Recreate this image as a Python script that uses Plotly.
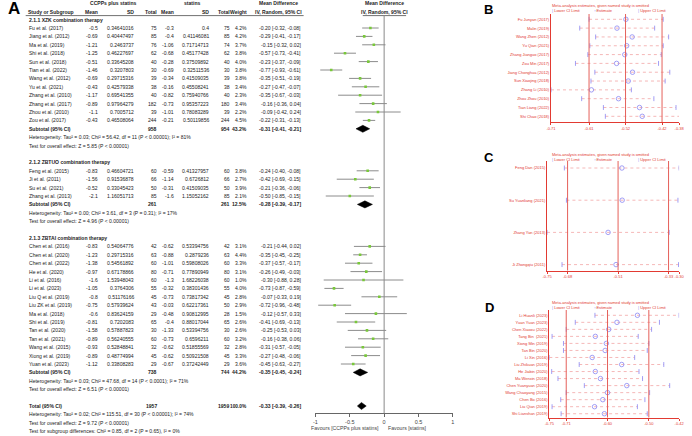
import plotly.graph_objects as go

W, H = 692, 436
FONT = "Liberation Sans, Arial, sans-serif"
FS = 5.05
TXT = "#222222"
RED = "#e23a32"
LRED = "#f2a6a6"
BLUE = "#8a87f2"

# ---------------- Panel A data ----------------
study = ["Fu et al. (2017)", "Jiang et al. (2012)", "Ma et al. (2019)", "Shi et al. (2018)",
         "Sun et al. (2018)", "Tian et al. (2022)", "Wang et al. (2012)", "Yu et al. (2021)",
         "Zhang et al. (2010)", "Zhang et al. (2017)", "Zhou et al. (2010)", "Zou et al. (2017)",
         "Feng et al. (2015)", "Ji et al. (2011)", "Su et al. (2021)", "Zhang et al. (2013)",
         "Chen et al. (2016)", "Chen et al. (2020)", "Chen et al. (2022)", "He et al. (2020)",
         "Li et al. (2016)", "Li et al. (2023)", "Liu Q et al. (2019)", "Liu ZK et al. (2019)",
         "Ma et al. (2018)", "Shi et al. (2019)", "Tan et al. (2020)", "Tan et al. (2021)",
         "Wang et al. (2015)", "Xiong et al. (2019)", "Yuan et al. (2023)"]
group = [0] * 12 + [1] * 4 + [2] * 15
e_mean = [-0.5, -0.69, -1.21, -1.25, -0.51, -1.46, -0.69, -0.43, -1.17, -0.89, -1.1, -0.43,
          -0.83, -1.56, -0.52, -2.1,
          -0.83, -1.23, -1.38, -0.97, -1.6, -1.05, -0.8, -0.75, -0.6, -0.81, -1.58, -0.89,
          -0.93, -0.89, -1.12]
e_sd = [0.34641016, 0.40447497, 0.2463737, 0.46227697, 0.33645208, 0.3207803, 0.29715316,
        0.42579338, 0.69541355, 0.97964279, 0.7005712, 0.46508064,
        0.46604721, 0.91536878, 0.33045423, 1.16051713,
        0.54064776, 0.29715316, 0.54561892, 0.67178866, 1.53948043, 0.3764306, 0.51176166,
        0.57939624, 0.83624159, 0.7202083, 0.57887823, 0.56240555, 0.52848841, 0.48774994,
        0.33808283]
e_n = [75, 85, 76, 62, 40, 30, 39, 38, 40, 182, 39, 244,
       60, 66, 50, 85,
       42, 63, 60, 80, 60, 55, 45, 43, 29, 65, 30, 60, 32, 45, 29]
c_mean = [-0.3, -0.4, -1.06, -0.68, -0.28, -0.69, -0.34, -0.16, -0.82, -0.73, -1.01, -0.21,
          -0.59, -1.14, -0.31, -1.6,
          -0.62, -0.88, -1.01, -0.71, -1.3, -0.32, -0.73, -0.03, -0.48, -0.4, -1.33, -0.73,
          -0.62, -0.62, -0.67]
c_sd = [0.4, 0.41146081, 0.71714713, 0.45177428, 0.37509892, 0.32511536, 0.41509035,
        0.45508241, 0.75940766, 0.95357223, 0.78083289, 0.50119856,
        0.41327957, 0.6726812, 0.41509035, 1.15052162,
        0.53394756, 0.2879236, 0.59808026, 0.77890949, 1.68226038, 0.38301436, 0.73817342,
        0.62217361, 0.90812995, 0.88017044, 0.53394756, 0.6596211, 0.51855569, 0.50921508,
        0.37242449]
c_n = [75, 85, 74, 62, 40, 30, 39, 38, 40, 180, 39, 244,
       60, 66, 50, 85,
       42, 63, 60, 80, 60, 55, 45, 50, 28, 65, 30, 60, 32, 45, 29]
weight = [4.2, 4.2, 3.7, 3.8, 4.0, 3.8, 3.8, 3.4, 2.3, 3.4, 2.2, 4.5,
          3.8, 2.7, 3.9, 2.1,
          3.1, 4.4, 3.3, 3.1, 1.0, 4.0, 2.8, 2.9, 1.5, 2.6, 2.6, 3.2, 2.8, 3.3, 3.6]
md = [-0.20, -0.29, -0.15, -0.57, -0.23, -0.77, -0.35, -0.27, -0.35, -0.16, -0.09, -0.22,
      -0.24, -0.42, -0.21, -0.50,
      -0.21, -0.35, -0.37, -0.26, -0.30, -0.73, -0.07, -0.72, -0.12, -0.41, -0.25, -0.16,
      -0.31, -0.27, -0.45]
md_lo = [-0.32, -0.41, -0.32, -0.73, -0.37, -0.93, -0.51, -0.47, -0.67, -0.36, -0.42, -0.31,
         -0.40, -0.69, -0.36, -0.85,
         -0.44, -0.45, -0.57, -0.49, -0.88, -0.87, -0.33, -0.96, -0.57, -0.69, -0.53, -0.38,
         -0.57, -0.48, -0.63]
md_hi = [-0.08, -0.17, 0.02, -0.41, -0.09, -0.61, -0.19, -0.07, -0.03, 0.04, 0.24, -0.13,
         -0.08, -0.15, -0.06, -0.15,
         0.02, -0.25, -0.17, -0.03, 0.28, -0.59, 0.19, -0.48, 0.33, -0.13, 0.03, 0.06,
         -0.05, -0.06, -0.27]

sub_title = ["2.1.1 XZK combination therapy", "2.1.2 ZBTUO combination therapy",
             "2.1.3 ZBTAI combination therapy"]
sub_e_n = [958, 261, 738]
sub_c_n = [954, 261, 744]
sub_w = [43.2, 12.5, 44.2]
sub_md = [-0.31, -0.28, -0.35]
sub_lo = [-0.41, -0.39, -0.45]
sub_hi = [-0.21, -0.17, -0.24]
sub_het = ["Heterogeneity: Tau² = 0.03; Chi² = 56.42, df = 11 (P < 0.00001); I² = 81%",
           "Heterogeneity: Tau² = 0.00; Chi² = 3.61, df = 3 (P = 0.31); I² = 17%",
           "Heterogeneity: Tau² = 0.03; Chi² = 47.68, df = 14 (P < 0.0001); I² = 71%"]
sub_test = ["Test for overall effect: Z = 5.85 (P < 0.00001)",
            "Test for overall effect: Z = 4.96 (P < 0.00001)",
            "Test for overall effect: Z = 6.51 (P < 0.00001)"]
tot_e_n, tot_c_n, tot_w = 1957, 1959, 100.0
tot_ci = [-0.33, -0.39, -0.26]
tot_lines = ["Heterogeneity: Tau² = 0.02; Chi² = 115.51, df = 30 (P < 0.00001); I² = 74%",
             "Test for overall effect: Z = 9.72 (P < 0.00001)",
             "Test for subgroup differences: Chi² = 0.85, df = 2 (P = 0.65), I² = 0%"]
forest_ticks = [-1, -0.5, 0, 0.5, 1]
forest_ticktext = ["-1", "-0.5", "0", "0.5", "1"]

# ---------------- Panels B, C, D data ----------------
B_names = ["Fu Junyan (2017)", "Malin (2019)", "Wang Zhen (2012)", "Yu Qian (2021)",
           "Zhang Jianguo (2017)", "Zou Min (2017)", "Jiang Chonghua (2012)",
           "Sun Xiaojing (2018)", "Zhang Li (2010)", "Zhou Zhou (2010)", "Tian Liang (2022)",
           "Shi Chao (2018)"]
B_est = [-0.517, -0.540, -0.501, -0.515, -0.520, -0.541, -0.500, -0.511, -0.606, -0.536,
         -0.482, -0.475]
B_lo = [-0.612, -0.636, -0.595, -0.610, -0.615, -0.647, -0.597, -0.607, -0.710, -0.631,
        -0.575, -0.570]
B_hi = [-0.421, -0.443, -0.407, -0.421, -0.426, -0.433, -0.404, -0.416, -0.503, -0.445,
        -0.388, -0.379]
B_overall = [-0.612, -0.518, -0.424]
B_range = [-0.71, -0.38]
B_tickvals = [-0.71, -0.612, -0.518, -0.424, -0.38]
B_ticktext = ["-0.71", "-0.61", "-0.52", "-0.42", "-0.38"]

C_names = ["Feng Dan (2015)", "Su Yuanliang (2021)", "Zhang Yan (2013)", "Ji Zhongqiu (2011)"]
C_est = [-0.495, -0.494, -0.542, -0.515]
C_lo = [-0.691, -0.684, -0.750, -0.699]
C_hi = [-0.300, -0.304, -0.334, -0.302]
C_overall = [-0.680, -0.508, -0.336]
C_range = [-0.75, -0.30]
C_tickvals = [-0.75, -0.680, -0.508, -0.336, -0.30]
C_ticktext = ["-0.75", "-0.68", "-0.51", "-0.33", "-0.30"]

D_names = ["Li Huanli (2023)", "Yuan Yuan (2023)", "Chen Xiaoxu (2022)", "Tang Bin  (2021)",
           "Xiong Min (2019)", "Tan Bin (2020)", "Li Xin (2016)", "Liu Zhikuan (2019)",
           "He Jiabin (2020)", "Ma Wenxin (2018)", "Chen Yuanyuan (2020)",
           "Wang Chaoyang (2015)", "Chen Bo (2016)", "Liu Qian (2019)", "Shi Lianshan (2019)"]
D_est = [-0.526, -0.578, -0.599, -0.633, -0.605, -0.608, -0.641, -0.566, -0.633, -0.620,
         -0.553, -0.602, -0.614, -0.635, -0.610]
D_lo = [-0.634, -0.684, -0.707, -0.743, -0.714, -0.714, -0.750, -0.674, -0.744, -0.728,
        -0.661, -0.707, -0.721, -0.743, -0.720]
D_hi = [-0.420, -0.470, -0.490, -0.524, -0.497, -0.501, -0.533, -0.459, -0.522, -0.513,
        -0.444, -0.495, -0.507, -0.526, -0.501]
D_overall = [-0.707, -0.602, -0.497]
D_range = [-0.75, -0.42]
D_tickvals = [-0.75, -0.707, -0.602, -0.497, -0.42]
D_ticktext = ["-0.75", "-0.71", "-0.60", "-0.50", "-0.42"]

# ---------------- layout helpers ----------------
ROW0, ROWH = 28.0, 8.4          # pixel y of first study row, row pitch
K_TOP = -ROW0 / ROWH
K_BOT = (H - ROW0) / ROWH

fig = go.Figure()
ann = []
shapes = []


def txt(xpx, k, s, anchor="left", bold=False, size=FS, color=TXT):
    ann.append(dict(x=xpx / W, y=k, xref="paper", yref="y", text=(f"<b>{s}</b>" if bold else s),
                    showarrow=False, xanchor=anchor, yanchor="middle",
                    font=dict(family=FONT, size=size, color=color)))


def ptxt(xpx, ypx, s, anchor="left", size=4, color=RED, bold=False):
    ann.append(dict(x=xpx / W, y=1 - ypx / H, xref="paper", yref="paper",
                    text=(f"<b>{s}</b>" if bold else s), showarrow=False,
                    xanchor=anchor, yanchor="middle",
                    font=dict(family=FONT, size=size, color=color)))


# column x positions (pixels)
X_NAME, X_EM, X_ESD, X_EN, X_CM, X_CSD, X_CN, X_W, X_MD = 22, 96, 132.5, 156.3, 174, 209.5, 230.5, 247.5, 302

# headers
txt(110, -2.95, "CCPPs plus statins", "center", True)
txt(190, -2.95, "statins", "center", True)
txt(278, -2.95, "Mean Difference", "center", True)
txt(384.7, -2.95, "Mean Difference", "center", True)
txt(21.5, -1.95, "Study or Subgroup", "left", True)
for xp, s in [(X_EM, "Mean"), (X_ESD, "SD"), (X_EN, "Total"), (X_CM, "Mean"), (X_CSD, "SD"),
              (X_CN, "Total"), (X_W, "Weight")]:
    txt(xp, -1.95, s, "right", True)
txt(278, -1.95, "IV, Random, 95% CI", "center", True)
txt(384.7, -1.95, "IV, Random, 95% CI", "center", True)
shapes.append(dict(type="line", xref="paper", yref="paper", x0=21 / W, x1=303 / W,
                   y0=1 - 15.6 / H, y1=1 - 15.6 / H, line=dict(color="#333", width=0.7)))
shapes.append(dict(type="line", xref="paper", yref="paper", x0=363 / W, x1=407 / W,
                   y0=1 - 15.6 / H, y1=1 - 15.6 / H, line=dict(color="#333", width=0.7)))

study_rows = []
sub_rows = []
k = -1
for g in range(3):
    txt(X_NAME, k, sub_title[g], bold=True)
    k += 1
    for i in [j for j in range(len(study)) if group[j] == g]:
        study_rows.append(k)
        txt(X_NAME, k, study[i])
        txt(X_EM, k, str(e_mean[i]), "right")
        txt(X_ESD, k, str(e_sd[i]), "right")
        txt(X_EN, k, str(e_n[i]), "right")
        txt(X_CM, k, str(c_mean[i]), "right")
        txt(X_CSD, k, str(c_sd[i]), "right")
        txt(X_CN, k, str(c_n[i]), "right")
        txt(X_W, k, f"{weight[i]:.1f}%", "right")
        txt(X_MD, k, f"{md[i]:.2f} [{md_lo[i]:.2f}, {md_hi[i]:.2f}]", "right")
        k += 1
    sub_rows.append(k)
    txt(X_NAME, k, "Subtotal (95% CI)", bold=True)
    txt(X_EN, k, str(sub_e_n[g]), "right", True)
    txt(X_CN, k, str(sub_c_n[g]), "right", True)
    txt(X_W, k, f"{sub_w[g]:.1f}%", "right", True)
    txt(X_MD, k, f"{sub_md[g]:.2f} [{sub_lo[g]:.2f}, {sub_hi[g]:.2f}]", "right", True)
    txt(X_NAME, k + 1, sub_het[g])
    txt(X_NAME, k + 2, sub_test[g])
    k += 4
tot_row = k
txt(X_NAME, k, "Total (95% CI)", bold=True)
txt(X_EN, k, str(tot_e_n), "right", True)
txt(X_CN - 1, k, str(tot_c_n), "right", True)
txt(X_W, k, f"{tot_w:.1f}%", "right", True, FS * 0.95)
txt(X_MD, k, f"{tot_ci[0]:.2f} [{tot_ci[1]:.2f}, {tot_ci[2]:.2f}]", "right", True)
for j, s in enumerate(tot_lines):
    txt(X_NAME, k + 1 + j, s)

# forest plot marks
ci_x, ci_y = [], []
for r, lo, hi in zip(study_rows, md_lo, md_hi):
    ci_x += [lo, hi, None]
    ci_y += [r, r, None]
fig.add_trace(go.Scatter(x=ci_x, y=ci_y, mode="lines", line=dict(color="#8c8c8c", width=1),
                         xaxis="x", yaxis="y", hoverinfo="skip", showlegend=False))
fig.add_trace(go.Scatter(x=md, y=study_rows, mode="markers",
                         marker=dict(symbol="square", size=2.6, color="#79c83a"),
                         xaxis="x", yaxis="y", hoverinfo="skip", showlegend=False))
dx, dy = [], []
for r, (m, lo, hi) in zip(sub_rows + [tot_row],
                          list(zip(sub_md, sub_lo, sub_hi)) + [tuple(tot_ci)]):
    dx += [lo, m, hi, m, lo, None]
    dy += [r, r - 0.42, r, r + 0.42, r, None]
fig.add_trace(go.Scatter(x=dx, y=dy, mode="lines", fill="toself", fillcolor="black",
                         line=dict(color="black", width=0.5), xaxis="x", yaxis="y",
                         hoverinfo="skip", showlegend=False))
AX_PX = 413.3
shapes.append(dict(type="line", xref="x", yref="y", x0=0, x1=0, y0=(15 - ROW0) / ROWH,
                   y1=(AX_PX - ROW0) / ROWH, line=dict(color="#8a8a8a", width=1)))
ptxt(382, 427.7, "Favours [CCPPs plus statins]", "right", 5.2, "#444")
ptxt(387, 427.7, "Favours [statins]", "left", 5.2, "#444")

# panel letters
ptxt(1.5, 8.5, "A", "left", 17, "black", True)
ptxt(484.5, 9.5, "B", "left", 13, "black", True)
ptxt(484.5, 157, "C", "left", 13, "black", True)
ptxt(485, 307, "D", "left", 13, "black", True)

layout_axes = {}


def panel(idx, names, est, lo, hi, overall, rng, tv, tt, xpx, top, bot, first, pitch,
          title_y, leg_y):
    xa, ya = f"x{idx}", f"y{idx}"
    n = len(names)
    rows = list(range(n))
    lx, ly = [], []
    for r, a, b in zip(rows, lo, hi):
        lx += [a, b, None]
        ly += [r, r, None]
    fig.add_trace(go.Scatter(x=lx, y=ly, mode="lines",
                             line=dict(color=LRED, width=0.8, dash="dot"),
                             xaxis=xa, yaxis=ya, hoverinfo="skip", showlegend=False))
    fig.add_trace(go.Scatter(x=lo + hi, y=rows + rows, mode="markers",
                             marker=dict(symbol="line-ns", size=3.5,
                                         line=dict(color=BLUE, width=0.8)),
                             xaxis=xa, yaxis=ya, hoverinfo="skip", showlegend=False))
    fig.add_trace(go.Scatter(x=est, y=rows, mode="markers",
                             marker=dict(symbol="circle-open", size=4.5,
                                         line=dict(color=BLUE, width=0.8), color=BLUE),
                             xaxis=xa, yaxis=ya, hoverinfo="skip", showlegend=False))
    for v in overall:
        shapes.append(dict(type="line", xref=xa, yref=f"{ya} domain", x0=v, x1=v, y0=0, y1=1,
                           line=dict(color="#e5605a", width=1)))
    ktop = (top - first) / pitch
    kbot = (bot - first) / pitch
    layout_axes[f"xaxis{idx}"] = dict(
        domain=[xpx[0] / W, xpx[1] / W], range=rng, anchor=ya, showline=True, linecolor=RED,
        linewidth=1, ticks="outside", ticklen=2, tickwidth=1, tickcolor=RED, tickvals=tv,
        ticktext=tt, tickangle=0, tickfont=dict(family=FONT, size=4, color=RED),
        showgrid=False, zeroline=False, fixedrange=True)
    layout_axes[f"yaxis{idx}"] = dict(
        domain=[1 - bot / H, 1 - top / H], range=[kbot, ktop], anchor=xa, showline=True,
        linecolor=RED, linewidth=1, ticks="", tickvals=rows, ticktext=names,
        tickfont=dict(family=FONT, size=4, color=RED), showgrid=False, zeroline=False,
        fixedrange=True)
    ptxt(553, title_y, "Meta-analysis estimates, given named study is omitted")
    ptxt(553, leg_y, f"<span style='color:{BLUE}'>|</span> Lower CI Limit")
    ptxt(595.5, leg_y, f"<span style='color:{BLUE}'>○</span>Estimate")
    ptxt(640.5, leg_y, f"<span style='color:{BLUE}'>|</span> Upper CI Limit")


panel(2, B_names, B_est, B_lo, B_hi, B_overall, B_range, B_tickvals, B_ticktext,
      (554, 684), 14, 122, 19.3, 8.82, 5.7, 10.7)
panel(3, C_names, C_est, C_lo, C_hi, C_overall, C_range, C_tickvals, C_ticktext,
      (550, 684), 161, 270.5, 168, 32.2, 154, 159.3)
panel(4, D_names, D_est, D_lo, D_hi, D_overall, D_range, D_tickvals, D_ticktext,
      (552.3, 684), 310, 417.5, 315.3, 7.03, 302.7, 307.7)

fig.update_layout(
    width=W, height=H, margin=dict(l=0, r=0, t=0, b=0),
    paper_bgcolor="white", plot_bgcolor="rgba(0,0,0,0)",
    font=dict(family=FONT, size=FS, color=TXT),
    showlegend=False,
    xaxis=dict(domain=[315 / W, 454.4 / W], range=[-1, 1], anchor="free",
               position=1 - AX_PX / H, showline=True, linecolor="#666", linewidth=1,
               ticks="outside", ticklen=3, tickcolor="#666", tickvals=forest_ticks,
               ticktext=forest_ticktext, tickfont=dict(family=FONT, size=5.5, color="#444"),
               showgrid=False, zeroline=False, fixedrange=True),
    yaxis=dict(domain=[0, 1], range=[K_BOT, K_TOP], visible=False, fixedrange=True),
    annotations=ann, shapes=shapes,
    **layout_axes,
)

fig.write_html("out.html")
